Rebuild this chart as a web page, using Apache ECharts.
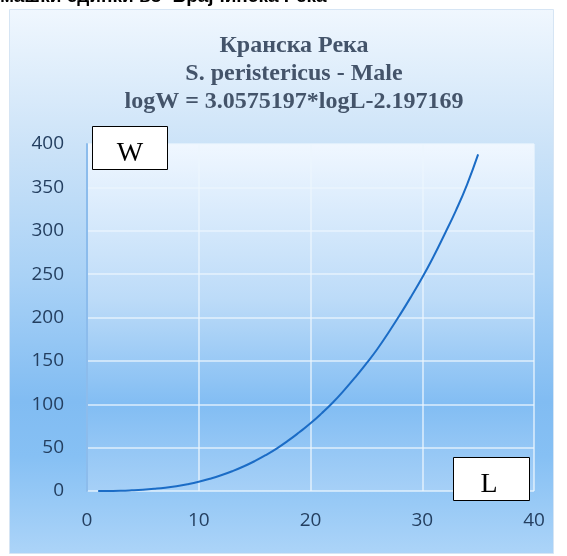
<!DOCTYPE html>
<html><head><meta charset="utf-8">
<script src="https://cdn.jsdelivr.net/npm/echarts@6/dist/echarts.min.js"></script>
<style>html,body{margin:0;padding:0;background:#fff;}#c{width:567px;height:556px;}</style>
</head><body><div id="c"></div>
<script>
var lengths = [1,2,3,4,5,6,7,8,9,10,11,12,13,14,15,16,17,18,19,20,21,22,23,24,25,26,27,28,29,30,31,32,33,34,35];
var weights = [0.02,0.1,0.3,0.8,1.5,2.5,3.8,5.6,7.9,10.7,14.1,18.1,22.8,28.2,34.4,41.4,49.2,58,67.7,78,89.5,102,116,131,147,164,183,203,224,246,270,296,323,353,388];
var xTicks = {min:0, max:40, step:10};
var yTicks = {min:0, max:400, step:50};
var titleLines = ['Кранска Река','S. peristericus - Male','logW = 3.0575197*logL-2.197169'];
var caption = 'машки единки во  Брајчинска Река';

var chart = echarts.init(document.getElementById('c'));
var G = echarts.graphic;
chart.setOption({
  animation:false,
  graphic:[
    {type:'text', left:0, top:-13, z:1, style:{text:caption, font:'bold 19px "Liberation Sans", Arial', fill:'#000'}},
    {type:'rect', z:-10, shape:{x:9.5,y:9.5,width:544,height:544}, style:{stroke:'#d6e5f4', lineWidth:1,
      fill:new G.LinearGradient(0,0,0,1,[{offset:0,color:'#f0f7fe'},{offset:0.25,color:'#cce3f8'},{offset:0.5,color:'#a8d1f6'},{offset:0.72,color:'#81bcf2'},{offset:0.82,color:'#86c0f4'},{offset:1,color:'#acd4f8'}])}},
    {type:'text', z:5, style:{text:titleLines.join('\n'), x:294, y:32, align:'center', verticalAlign:'top', font:'bold 24px "Liberation Serif", "Times New Roman"', lineHeight:28, fill:'#44546a'}},
    {type:'rect', z:20, shape:{x:92.5,y:126.5,width:75,height:43}, style:{fill:'#fff', stroke:'#000', lineWidth:1}},
    {type:'text', z:21, style:{text:'W', x:130, y:154, align:'center', verticalAlign:'middle', font:'28px "Liberation Serif", "Times New Roman"', fill:'#000'}},
    {type:'rect', z:20, shape:{x:453.5,y:457.5,width:76,height:43}, style:{fill:'#fff', stroke:'#000', lineWidth:1}},
    {type:'text', z:21, style:{text:'L', x:489, y:485, align:'center', verticalAlign:'middle', font:'28px "Liberation Serif", "Times New Roman"', fill:'#000'}}
  ],
  grid:{left:87, right:33, top:144, bottom:65, show:true, borderWidth:0,
    backgroundColor:new G.LinearGradient(0,0,0,1,[{offset:0,color:'#f0f7ff'},{offset:0.45,color:'#bcdbf8'},{offset:0.75,color:'#82bdf3'},{offset:1,color:'#a6d0f7'}])},
  xAxis:{type:'value', min:xTicks.min, max:xTicks.max, interval:xTicks.step,
    axisLine:{show:false}, axisTick:{show:false},
    splitLine:{show:true, lineStyle:{color:'rgba(235,244,253,0.85)', width:1.5}},
    axisLabel:{margin:20, fontSize:19, color:'#243f60', fontFamily:'"Open Sans", "Liberation Sans"'}},
  yAxis:{type:'value', min:yTicks.min, max:yTicks.max, interval:yTicks.step,
    axisLine:{show:true, lineStyle:{color:'#8cbcec', width:2}}, axisTick:{show:false},
    splitLine:{show:true, lineStyle:{color:'rgba(235,244,253,0.85)', width:1.5}},
    axisLabel:{margin:23, fontSize:19, color:'#243f60', fontFamily:'"Open Sans", "Liberation Sans"'}},
  series:[{type:'line', smooth:true, showSymbol:false, data:lengths.map(function(l,i){return [l,weights[i]];}),
    lineStyle:{color:'#1b6cc6', width:2}, z:10}]
});
</script></body></html>
